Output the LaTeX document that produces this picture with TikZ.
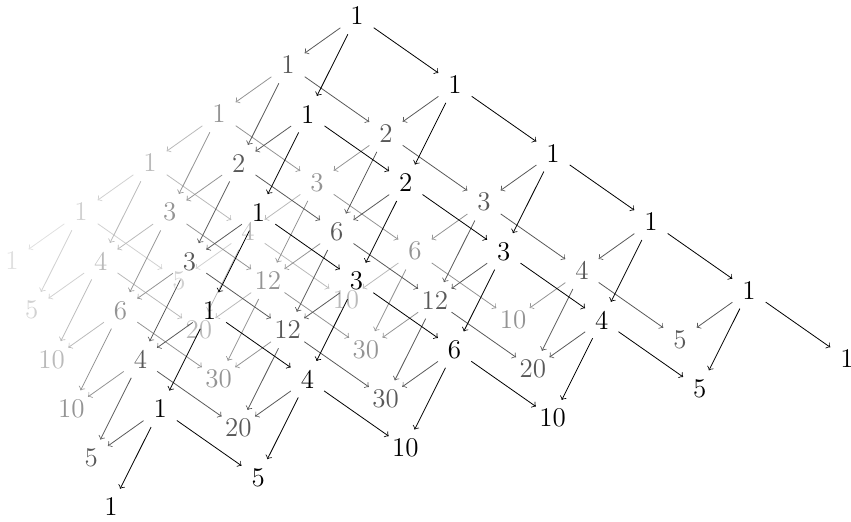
\documentclass[tikz,border=0pt]{standalone}
\usetikzlibrary{calc}

% shades by depth
\colorlet{shade0}{black}
\colorlet{shade1}{black!65}
\colorlet{shade2}{black!42}
\colorlet{shade3}{black!27}
\colorlet{shade4}{black!18}
\colorlet{shade5}{black!12}

\begin{document}
\begin{tikzpicture}[
    x=0.5pt, y=-0.5pt,
    spot/.style={circle, inner sep=0pt, minimum size=20pt},
    entry/.style={inner sep=0pt, font=\fontsize{13.5}{16}\selectfont},
    link/.style={->},
]
\useasboundingbox (-357,-16) rectangle (494,505);

% Positions of all entries
\foreach \k in {0,...,5} {
  \pgfmathtruncatemacro\mmax{5-\k}
  \foreach \m in {0,...,\mmax} {
    \foreach \i in {0,...,\m} {
      \pgfmathtruncatemacro\j{\m-\i}
      \node[spot] (p-\i-\j-\k) at ({98*\i-49.2*\j-69*\k},{68.6*\i+98.2*\j+49*\k}) {};
    }
  }
}

% Arrows and numbers, back to front
\foreach \k in {5,4,...,0} {
  \pgfmathtruncatemacro\mmax{5-\k}
  \foreach \m in {0,...,\mmax} {
    \foreach \i in {0,...,\m} {
      \pgfmathtruncatemacro\j{\m-\i}
      \pgfmathtruncatemacro\n{\m+\k}
      \pgfmathtruncatemacro\v{round(factorial(\n)/(factorial(\i)*factorial(\j)*factorial(\k)))}
      \pgfmathtruncatemacro\ia{\i-1}
      \pgfmathtruncatemacro\ja{\j-1}
      \pgfmathtruncatemacro\ka{\k-1}
      \ifnum\i>0 \draw[link, draw=shade\k] (p-\ia-\j-\k) -- (p-\i-\j-\k); \fi
      \ifnum\j>0 \draw[link, draw=shade\k] (p-\i-\ja-\k) -- (p-\i-\j-\k); \fi
      \ifnum\k>0 \draw[link, draw=shade\k] (p-\i-\j-\ka) -- (p-\i-\j-\k); \fi
      \node[entry, text=shade\k] (t-\i-\j-\k) at (p-\i-\j-\k) {\v};
    }
  }
}

\end{tikzpicture}
\end{document}
